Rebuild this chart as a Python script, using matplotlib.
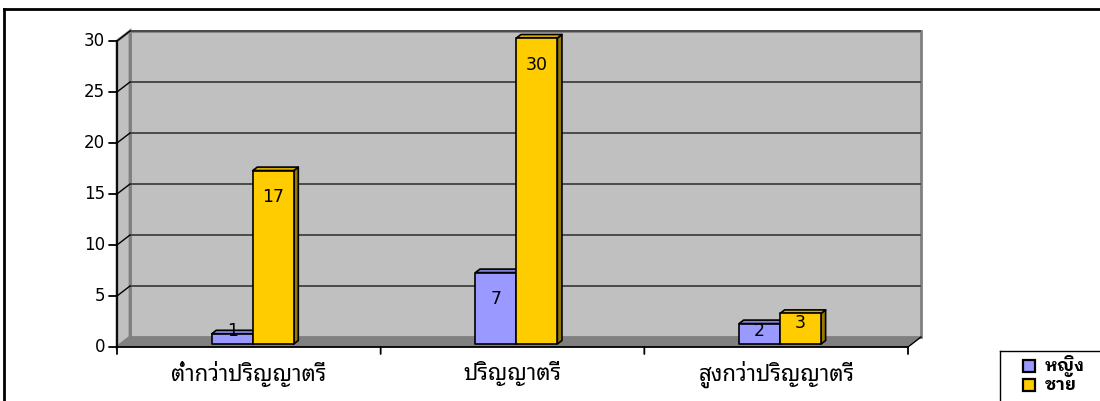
import matplotlib
matplotlib.use("Agg")
import matplotlib.pyplot as plt
from matplotlib.patches import Polygon, Rectangle
from matplotlib.lines import Line2D
import numpy as np

# data
categories = ["ต่ำกว่าปริญญาตรี", "ปริญญาตรี", "สูงกว่าปริญญาตรี"]
series_names = ["หญิง", "ชาย"]
female = [1, 7, 2]
male = [17, 30, 3]
y_ticks = [0, 5, 10, 15, 20, 25, 30]

series_values = [female, male]
series_colors = ["#9999ff", "#ffcc00"]

THAI = ["Noto Sans Thai Looped", "DejaVu Sans"]
THAI_BOLD = ["IBM Plex Sans Thai Looped", "Noto Sans Thai Looped", "DejaVu Sans"]
NUM = ["DejaVu Sans"]

W, H = 1100, 401
fig = plt.figure(figsize=(W / 100, H / 100), dpi=100)
ax = fig.add_axes([117 / W, (H - 347) / H, 791 / W, 306 / H])
ymax = y_ticks[-1]
ax.set_xlim(-0.5, len(categories) - 0.5)
ax.set_ylim(0, ymax)
ax.axis("off")

# depth of the 3d box, pixels -> data units
px_x = 791 / len(categories)
px_y = 306 / ymax
DX = 13 / px_x
DY = 10 / px_y
x0, x1 = -0.5, len(categories) - 0.5


def poly(pts, **kw):
    p = Polygon(pts, closed=True, clip_on=False, **kw)
    ax.add_patch(p)
    return p


def shade(hex_color, f):
    c = np.array(matplotlib.colors.to_rgb(hex_color)) * f
    return tuple(np.clip(c, 0, 1))


def tick(xy, dxy):
    ax.annotate("", xy, xytext=dxy, textcoords="offset pixels",
                arrowprops=dict(arrowstyle="-", color="black", lw=1.3,
                                shrinkA=0, shrinkB=0), annotation_clip=False)


# walls and floor
poly([(x0 + DX, DY), (x1 + DX, DY), (x1 + DX, ymax + DY), (x0 + DX, ymax + DY)],
     fc="#c0c0c0", ec="#808080", lw=2, zorder=1)
poly([(x0, 0), (x0 + DX, DY), (x0 + DX, ymax + DY), (x0, ymax)],
     fc="#c0c0c0", ec="#808080", lw=2, zorder=1)
poly([(x0, 0), (x1, 0), (x1 + DX, DY), (x0 + DX, DY)],
     fc="#808080", ec="none", zorder=1)

# gridlines on the back wall plus their slant on the side wall
for v in y_ticks[1:]:
    ax.plot([x0 + DX, x1 + DX], [v + DY, v + DY], color="#4a4a4a", lw=1.4,
            zorder=2, clip_on=False, solid_capstyle="butt")
    ax.plot([x0, x0 + DX], [v, v + DY], color="black", lw=1,
            zorder=2, clip_on=False)
ax.plot([x1, x1 + DX], [0, DY], color="black", lw=1, zorder=2, clip_on=False)

# axis lines, ticks and labels
ax.plot([x0, x0], [0, ymax], color="black", lw=1.3, zorder=3, clip_on=False)
ax.plot([x0, x1], [0, 0], color="black", lw=1.3, zorder=3, clip_on=False)
for v in y_ticks:
    tick((x0, v), (-8, 0))
    ax.annotate(str(v), (x0, v), xytext=(-12, 0), textcoords="offset pixels",
                ha="right", va="center", fontsize=12, family=NUM,
                annotation_clip=False)
for b in np.arange(len(categories) + 1) - 0.5:
    tick((b, 0), (0, -7))
for i, cat in enumerate(categories):
    ax.annotate(cat, (i, 0), xytext=(0, -27), textcoords="offset pixels",
                ha="center", va="center", fontsize=16, family=THAI,
                annotation_clip=False)

# 3d columns
bw = 41 / px_x
d1, d2 = 0.3, 0.65
z = 5
for i in range(len(categories)):
    for s, (vals, col) in enumerate(zip(series_values, series_colors)):
        v = vals[i]
        xl = i - bw + s * bw
        xr = xl + bw
        fx, fy = d1 * DX, d1 * DY
        bx, by = d2 * DX, d2 * DY
        kw = dict(ec="black", lw=1.2, joinstyle="round", zorder=z)
        poly([(xr + fx, fy), (xr + bx, by), (xr + bx, v + by), (xr + fx, v + fy)],
             fc=shade(col, 0.6), **kw)
        poly([(xl + fx, v + fy), (xr + fx, v + fy), (xr + bx, v + by), (xl + bx, v + by)],
             fc=shade(col, 0.85), **kw)
        poly([(xl + fx, fy), (xr + fx, fy), (xr + fx, v + fy), (xl + fx, v + fy)],
             fc=col, **kw)
        ly = v - 2.6 if v >= 5 else max(v - 0.9, 1.3)
        ax.text((xl + xr) / 2 + fx, ly + fy, str(v), ha="center", va="center",
                fontsize=12.5, family=NUM, zorder=z + 1, clip_on=False)
        z += 2


def px(x, y):
    return x / W, 1 - y / H


def fig_line(p, q, lw):
    (xa, ya), (xb, yb) = px(*p), px(*q)
    fig.lines.append(Line2D([xa, xb], [ya, yb], transform=fig.transFigure,
                            color="black", lw=lw, figure=fig))


# legend box (runs off the right and bottom edges)
fig_line((1000, 351), (1110, 351), 1)
fig_line((1000, 351), (1000, 410), 1)
for k, (name, col) in enumerate(zip(series_names, series_colors)):
    yc = 366 + k * 19
    fig.patches.append(Rectangle(px(1023, yc + 6), 12 / W, 12 / H,
                                 transform=fig.transFigure, fc=col, ec="black",
                                 lw=1.6, figure=fig))
    fig.text(*px(1045, yc), name, ha="left", va="center", fontsize=12.5,
             fontweight="bold", family=THAI_BOLD)

# outer border of the chart area
fig_line((4, 9), (1110, 9), 2)
fig_line((4, 9), (4, 410), 2)

fig.savefig("out.png", dpi=100)
